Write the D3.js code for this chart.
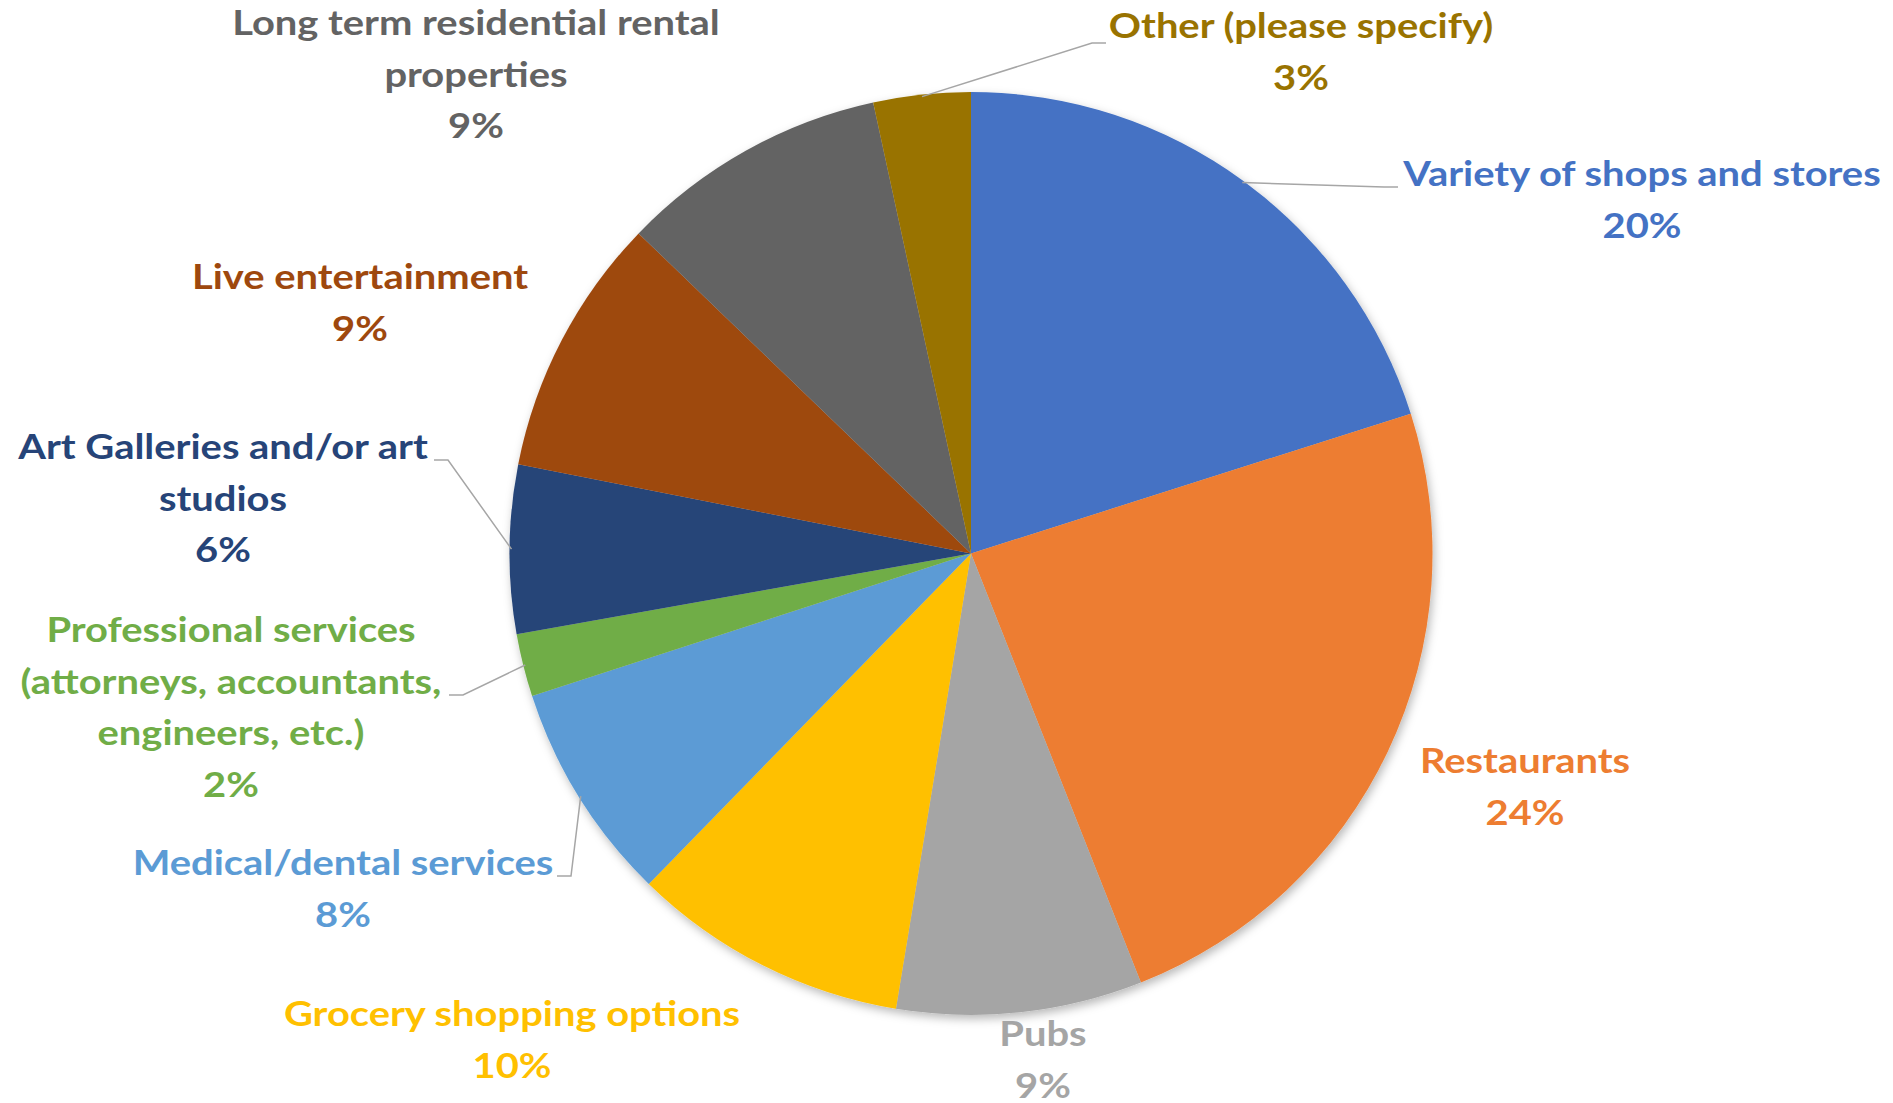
<!DOCTYPE html>
<html>
<head>
<meta charset="utf-8">
<script src="https://cdn.jsdelivr.net/npm/d3@7"></script>
<style>
  html, body { margin: 0; padding: 0; background: #fff; }
  svg text { font-family: Lato, "Open Sans", sans-serif; font-weight: 700; }
</style>
</head>
<body>
<div id="chart"></div>
<script>
// data (percent of responses)
var categories = [
  "Variety of shops and stores",
  "Restaurants",
  "Pubs",
  "Grocery shopping options",
  "Medical/dental services",
  "Professional services (attorneys, accountants, engineers, etc.)",
  "Art Galleries and/or art studios",
  "Live entertainment",
  "Long term residential rental properties",
  "Other (please specify)"
];
var values = [20.1, 23.9, 8.6, 9.7, 7.7, 2.2, 5.9, 9.1, 9.4, 3.4];

// label text wrapped the way it is in the chart
var labelLines = [
  ["Variety of shops and stores"],
  ["Restaurants"],
  ["Pubs"],
  ["Grocery shopping options"],
  ["Medical/dental services"],
  ["Professional services", "(attorneys, accountants,", "engineers, etc.)"],
  ["Art Galleries and/or art", "studios"],
  ["Live entertainment"],
  ["Long term residential rental", "properties"],
  ["Other (please specify)"]
];

var colors = ["#4472C4", "#ED7D31", "#A5A5A5", "#FFC000", "#5B9BD5",
              "#70AD47", "#264478", "#9E480E", "#636363", "#997300"];

// layout: label centre x, first baseline y, leader end point (or null)
var labelPos = [
  {x: 1642, y: 186, lead: [1398, 187]},
  {x: 1525, y: 773, lead: null},
  {x: 1043, y: 1046, lead: null},
  {x: 512, y: 1026, lead: null},
  {x: 343, y: 875, lead: [557, 876]},
  {x: 231, y: 642, lead: [449, 695]},
  {x: 223, y: 459, lead: [434, 460]},
  {x: 360, y: 289, lead: null},
  {x: 476, y: 35, lead: null},
  {x: 1301, y: 38, lead: [1106, 43]}
];

var w = 1893, h = 1103;
var cx = 971, cy = 553.5, radius = 461.5;
var lineH = 51.7;
var stretch = 1.14;

var svg = d3.select("#chart").append("svg")
    .attr("width", w)
    .attr("height", h);

var defs = svg.append("defs");
var f = defs.append("filter").attr("id", "shadow")
    .attr("x", "-10%").attr("y", "-10%").attr("width", "120%").attr("height", "120%");
f.append("feDropShadow")
    .attr("dx", 2).attr("dy", 4).attr("stdDeviation", 5)
    .attr("flood-color", "#000").attr("flood-opacity", 0.28);

var g = svg.append("g").attr("transform", "translate(" + cx + "," + cy + ")");

var pie = d3.pie().sort(null).value(function(d) { return d; });
var arcs = pie(values);
var total = d3.sum(values);
var pct = function(v) { return Math.round(v / total * 100) + "%"; };

var path = d3.arc().outerRadius(radius).innerRadius(0);

var slices = g.append("g").attr("filter", "url(#shadow)");
slices.selectAll("path")
  .data(arcs)
  .enter().append("path")
    .attr("d", path)
    .attr("fill", function(d, i) { return colors[i]; });

// leader lines
var leaders = svg.append("g");
arcs.forEach(function(d, i) {
  var p = labelPos[i];
  if (!p.lead) return;
  var mid = (d.startAngle + d.endAngle) / 2;
  var sx = cx + Math.sin(mid) * (radius - 2),
      sy = cy - Math.cos(mid) * (radius - 2);
  var ex = p.lead[0], ey = p.lead[1];
  var side = ex < cx ? 1 : -1;
  var elbowX = ex + side * 14;
  leaders.append("path")
    .attr("d", "M" + sx + "," + sy + "L" + elbowX + "," + ey + "L" + ex + "," + ey)
    .attr("fill", "none")
    .attr("stroke", "#A6A6A6")
    .attr("stroke-width", 1.5);
});

// labels
var labels = svg.append("g");
arcs.forEach(function(d, i) {
  var p = labelPos[i];
  var lines = labelLines[i].concat([pct(values[i])]);
  var t = labels.append("g")
    .attr("transform", "translate(" + p.x + ",0) scale(" + stretch + ",1)")
    .append("text")
    .attr("text-anchor", "middle")
    .attr("fill", colors[i])
    .attr("font-size", "35px");
  lines.forEach(function(s, k) {
    t.append("tspan")
      .attr("x", 0)
      .attr("y", p.y + k * lineH)
      .text(s);
  });
});
</script>
</body>
</html>
